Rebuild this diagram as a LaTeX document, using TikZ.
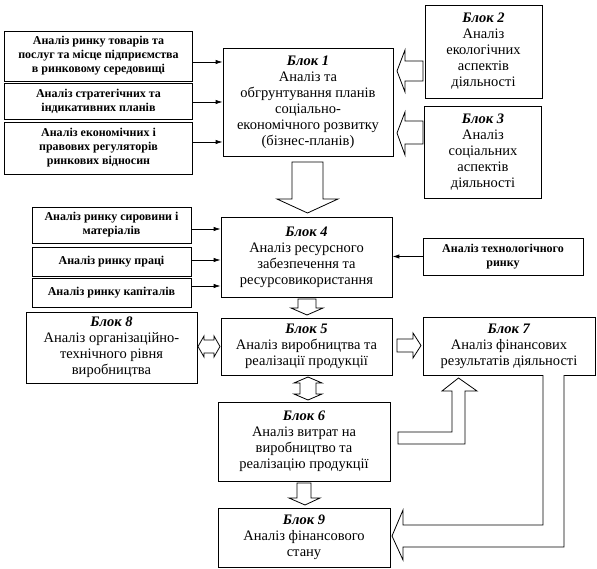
\documentclass[tikz,border=0pt]{standalone}
\usepackage{fontspec}
\setmainfont{Liberation Serif}
\usepackage{tikz}
\usetikzlibrary{arrows.meta,calc}
\tikzset{
  blockbox/.style={draw,line width=0.9pt,align=center,inner sep=1pt,
    font=\fontsize{14.5}{16}\selectfont},
  factorbox/.style={draw,line width=0.9pt,align=center,inner sep=1pt,
    font=\bfseries\fontsize{12}{14}\selectfont},
  linkarrow/.style={-{Latex[length=2.4mm,width=1.5mm]},line width=0.7pt},
  hollowarrow/.style={draw,fill=white,line width=0.8pt,line join=miter}
}
\newcommand{\blk}[1]{\textbf{\textit{Блок #1}}}
\begin{document}
\begin{tikzpicture}[x=1pt,y=-1pt]
  \useasboundingbox (0,0) rectangle (597,569);
  % фактори блоку 1
  \node[factorbox,minimum width=188pt,minimum height=50pt] (a1) at (98.5,56)
    {Аналіз ринку товарів та\\послуг та місце підприємства\\в ринковому середовищі};
  \node[factorbox,minimum width=188pt,minimum height=36pt] (a2) at (98.5,101)
    {Аналіз стратегічних та\\індикативних планів};
  \node[factorbox,minimum width=188pt,minimum height=52pt] (a3) at (98.5,148)
    {Аналіз економічних і\\правових регуляторів\\ринкових відносин};
  % блоки
  \node[blockbox,minimum width=170pt,minimum height=108pt] (b1) at (308,102)
    {\blk{1}\\Аналіз та\\обгрунтування планів\\соціально-\\економічного розвитку\\(бізнес-планів)};
  \node[blockbox,minimum width=117pt,minimum height=93pt] (b2) at (483.5,51.5)
    {\blk{2}\\Аналіз\\екологічних\\аспектів\\діяльності};
  \node[blockbox,minimum width=117pt,minimum height=92pt] (b3) at (483,152)
    {\blk{3}\\Аналіз\\соціальних\\аспектів\\діяльності};
  \node[blockbox,minimum width=171pt,minimum height=80pt] (b4) at (306.5,257)
    {\blk{4}\\Аналіз ресурсного\\забезпечення та\\ресурсовикористання};
  % фактори блоку 4
  \node[factorbox,minimum width=159pt,minimum height=36pt] (c1) at (111.5,225)
    {Аналіз ринку сировини і\\матеріалів};
  \node[factorbox,minimum width=159pt,minimum height=29pt] (c2) at (111.5,261.5)
    {Аналіз ринку праці};
  \node[factorbox,minimum width=159pt,minimum height=29pt] (c3) at (111.5,292.5)
    {Аналіз ринку капіталів};
  \node[factorbox,minimum width=160pt,minimum height=37pt] (tech) at (503,256.5)
    {Аналіз технологічного\\ринку};
  \node[blockbox,minimum width=171pt,minimum height=71pt] (b8) at (111.5,347.5)
    {\blk{8}\\Аналіз організаційно-\\технічного рівня\\виробництва};
  \node[blockbox,minimum width=171pt,minimum height=57pt] (b5) at (306.5,346.5)
    {\blk{5}\\Аналіз виробництва та\\реалізації продукції};
  \node[blockbox,minimum width=172pt,minimum height=58pt] (b7) at (509,346)
    {\blk{7}\\Аналіз фінансових\\результатів діяльності};
  \node[blockbox,minimum width=172pt,minimum height=79pt] (b6) at (304,441.5)
    {\blk{6}\\Аналіз витрат на\\виробництво та\\реалізацію продукції};
  \node[blockbox,minimum width=172pt,minimum height=59pt] (b9) at (304,537.5)
    {\blk{9}\\Аналіз фінансового\\стану};
  % тонкі стрілки
  \coordinate (p1) at ([yshift=-6pt]a1.east);
  \coordinate (p2) at ([yshift=-1pt]a2.east);
  \coordinate (p3) at ([yshift=6pt]a3.east);
  \coordinate (q1) at ([yshift=-4pt]c1.east);
  \coordinate (q2) at ([yshift=1.5pt]c2.east);
  \coordinate (q3) at ([yshift=6.5pt]c3.east);
  \draw[linkarrow] (p1) -- (p1 -| b1.west);
  \draw[linkarrow] (p2) -- (p2 -| b1.west);
  \draw[linkarrow] (p3) -- (p3 -| b1.west);
  \draw[linkarrow] (q1) -- (q1 -| b4.west);
  \draw[linkarrow] (q2) -- (q2 -| b4.west);
  \draw[linkarrow] (q3) -- (q3 -| b4.west);
  \draw[linkarrow] (tech.west) -- (tech.west -| b4.east);
  % широкі стрілки
  \draw[hollowarrow] (423,61) -- (405,61) -- (405,50) -- (397,71) -- (405,92)
    -- (405,81) -- (423,81) -- cycle;
  \draw[hollowarrow] (423,121) -- (405,121) -- (405,112) -- (397,133) -- (405,155)
    -- (405,144) -- (423,144) -- cycle;
  \draw[hollowarrow] (292,162) -- (323,162) -- (323,199) -- (338,199) -- (307.5,213)
    -- (277,199) -- (292,199) -- cycle;
  \draw[hollowarrow] (298,299) -- (316,299) -- (316,308) -- (323,308) -- (307,315)
    -- (291,308) -- (298,308) -- cycle;
  \draw[hollowarrow] (308,377) -- (322,383) -- (316,383) -- (316,394) -- (322,394)
    -- (308,400) -- (294,394) -- (300,394) -- (300,383) -- (294,383) -- cycle;
  \draw[hollowarrow] (198,346.5) -- (204,336) -- (204,340) -- (214,340) -- (214,336)
    -- (220,346.5) -- (214,357) -- (214,353) -- (204,353) -- (204,357) -- cycle;
  \draw[hollowarrow] (397,339) -- (413,339) -- (413,333) -- (421,345.5) -- (413,358)
    -- (413,352) -- (397,352) -- cycle;
  \draw[hollowarrow] (398,432) -- (452,432) -- (452,391) -- (442,391) -- (458.5,378)
    -- (477,391) -- (465,391) -- (465,444) -- (398,444) -- cycle;
  \draw[hollowarrow] (543,375) -- (543,525) -- (403,525) -- (403,510) -- (392,536)
    -- (403,560) -- (403,547) -- (564,547) -- (564,375);
  \draw[hollowarrow] (297,483) -- (311,483) -- (311,498) -- (320,498) -- (305,505)
    -- (289,498) -- (297,498) -- cycle;
\end{tikzpicture}
\end{document}
